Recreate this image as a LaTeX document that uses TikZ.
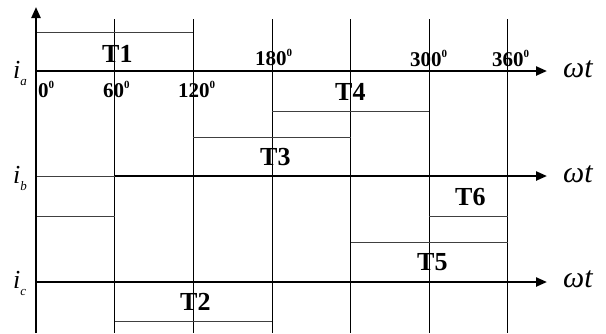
\documentclass[tikz,border=0pt]{standalone}
\usepackage{fontspec}
\setmainfont{Liberation Serif}
\usepackage{tikz}
\usetikzlibrary{arrows.meta}

\newcommand{\degsup}[1]{#1\raisebox{9pt}{\fontsize{11}{11}\selectfont 0}}
\newcommand{\phasei}[1]{{\fontsize{26}{26}\selectfont\itshape i}\raisebox{-7pt}{\fontsize{13}{13}\selectfont\itshape #1}}

\begin{document}
\begin{tikzpicture}[x=1pt,y=-1pt,
  axisline/.style={line width=2.3pt,-{Triangle[length=11pt,width=9pt]}},
  gridline/.style={line width=0.9pt,black},
  pulse/.style={line width=0.8pt,black!75},
  tlabel/.style={anchor=base west,inner sep=0pt,font=\fontsize{26}{26}\selectfont\bfseries},
  deglabel/.style={anchor=base west,inner sep=0pt,font=\fontsize{21}{21}\selectfont\bfseries},
  wtlabel/.style={anchor=base west,inner sep=0pt,font=\fontsize{30}{30}\selectfont\itshape},
  ilabel/.style={anchor=base west,inner sep=0pt}]
\useasboundingbox (0,0) rectangle (606,333);

% Gridlines every 60 degrees
\draw[gridline] (114.5,19) -- (114.5,333);
\draw[gridline] (193,19) -- (193,333);
\draw[gridline] (272,19) -- (272,333);
\draw[gridline] (350.5,19) -- (350.5,333);
\draw[gridline] (429,19) -- (429,333);
\draw[gridline] (507.5,19) -- (507.5,333);

% Conduction intervals
\draw[pulse] (36,32) -- (193,32);
\draw[pulse] (272,111) -- (429,111);
\draw[pulse] (193,137) -- (350.5,137);
\draw[pulse] (36,176) -- (114.5,176);
\draw[pulse] (36,216) -- (114.5,216);
\draw[pulse] (429,216) -- (507.5,216);
\draw[pulse] (350.5,242) -- (507.5,242);
\draw[pulse] (114.5,321) -- (272,321);

% Axes
\coordinate (origin) at (36,333);
\coordinate (top) at (36,7);
\draw[axisline] (origin) -- (top);
\coordinate (a0) at (36,71);
\coordinate (a1) at (547,71);
\draw[axisline] (a0) -- (a1);
\coordinate (b0) at (114.5,176);
\coordinate (b1) at (547,176);
\draw[axisline] (b0) -- (b1);
\coordinate (c0) at (36,282);
\coordinate (c1) at (547,282);
\draw[axisline] (c0) -- (c1);

% Axis labels
\node[wtlabel] (wta) at (563,77) {ωt};
\node[wtlabel] (wtb) at (563,182) {ωt};
\node[wtlabel] (wtc) at (563,287) {ωt};
\node[ilabel] (ia) at (13,78) {\phasei{a}};
\node[ilabel] (ib) at (13,183) {\phasei{b}};
\node[ilabel] (ic) at (13,288) {\phasei{c}};

% Angle marks
\node[deglabel] (d0) at (38,97) {\degsup{0}};
\node[deglabel] (d60) at (103,97) {\degsup{60}};
\node[deglabel] (d120) at (178,97) {\degsup{120}};
\node[deglabel] (d180) at (255,65) {\degsup{180}};
\node[deglabel] (d300) at (410,66) {\degsup{300}};
\node[deglabel] (d360) at (492,66) {\degsup{360}};

% Thyristor labels
\node[tlabel] (t1) at (102,62) {T1};
\node[tlabel] (t4) at (335,100) {T4};
\node[tlabel] (t3) at (260,165) {T3};
\node[tlabel] (t6) at (455,205) {T6};
\node[tlabel] (t5) at (417,270) {T5};
\node[tlabel] (t2) at (180,310) {T2};
\end{tikzpicture}
\end{document}
